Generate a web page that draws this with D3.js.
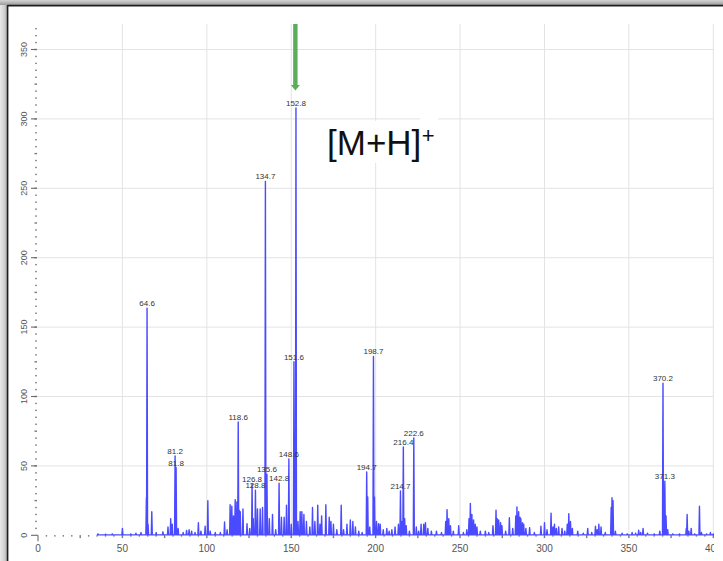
<!DOCTYPE html>
<html>
<head>
<meta charset="utf-8">
<script src="https://cdn.jsdelivr.net/npm/d3@7"></script>
<style>
  html, body { margin: 0; padding: 0; background: #fff; }
  svg { display: block; font-family: "Liberation Sans", Arial, sans-serif; }
</style>
</head>
<body>
<svg id="chart" width="723" height="561"></svg>
<script>
// Mass spectrum: centroid sticks (m/z, relative intensity)
const mz = [
  35.5, 40, 44, 50, 55, 58, 61, 64.2, 64.6, 65.2, 67.4, 70, 74, 77, 78.6, 79.5,
  81.2, 81.8, 83, 86, 88, 89.5, 91, 93, 95, 96.5, 99, 100.6, 102, 105, 108,
  110.5, 112, 113.8, 114.8, 115.8, 116.8, 117.8, 118.6, 119.2, 119.8, 121.4,
  123.8, 125.4, 126.8, 127.5, 128.8, 130, 131.6, 133, 134.7, 135.6, 137, 138.9,
  140.8, 142.8, 144.2, 145.8, 147.2, 148.6, 150, 151.6, 152.8, 154, 155.3,
  156.3, 157.5, 159, 161, 162.6, 164, 165.7, 167, 168, 170.5, 172.5, 173.5,
  175, 177, 179.6, 181, 183, 185, 186.5, 188, 190, 192, 194.7, 195.3, 196.5,
  198.7, 199.3, 200.5, 201.7, 202.7, 204.5, 206.6, 208, 209.6, 211.5, 213.5,
  214.7, 215.5, 216.4, 217.2, 218.1, 220, 222.6, 224.1, 225.5, 226.9, 228.5,
  229.5, 230.9, 233, 236, 239, 241.5, 242.3, 243.3, 244.3, 246, 249.2, 252,
  254, 255.3, 256.1, 257, 258, 259, 260, 262, 265, 267, 269.5, 271.3, 272,
  272.9, 274, 274.8, 277, 279.2, 281.2, 283, 283.7, 284.7, 285.5, 286, 287,
  287.7, 289, 291.2, 294, 297.9, 300, 301.5, 303.9, 305, 305.9, 307, 308.4,
  310.4, 312, 313.5, 314.4, 315.4, 316.5, 319.7, 323, 325.6, 328, 330.2, 331.2,
  332.2, 333.5, 336, 339.5, 340, 340.6, 342, 346, 349, 351.9, 354, 355.8, 357,
  358.4, 361, 365, 368.3, 370.2, 371.3, 372, 373, 376, 380, 384, 384.5, 385.5,
  386.9, 389, 391.8, 393, 396, 398.3, 400
];
const intensity = [
  1, 0.8, 1, 5, 1, 1.5, 2, 27, 163.6, 8, 17, 2, 2.5, 6, 12, 8,
  57.2, 48.8, 5, 2, 3.5, 4, 3, 2, 9, 3, 6.5, 25, 3, 2, 2,
  9.6, 4, 22, 21, 14, 25.7, 24, 81.7, 18, 17, 19,
  8.4, 5, 37, 12, 32.5, 19, 19, 20, 255, 44, 12, 15,
  4, 37.5, 13, 13, 21.6, 55, 8, 125, 307.9, 10, 17,
  17, 15, 10, 6, 20, 10, 21.6, 8, 14, 22, 13, 10,
  8, 4, 21.6, 4, 8, 11, 10, 6, 3, 2, 45.7, 27.6, 6,
  128.9, 27.6, 10, 8.4, 8, 4, 5, 3, 4, 6, 8,
  32, 10, 63.7, 12, 7, 3, 70.2, 6, 3, 8, 8,
  9, 5, 3, 3, 2, 10, 18.5, 12, 7, 3, 7, 2,
  4, 12, 23, 15, 11, 8, 6, 3, 3, 2, 7, 18, 12,
  11, 9, 7, 3, 12.7, 5, 14, 20.4, 17, 13, 12, 9,
  8, 5, 5.5, 2, 6.5, 9, 4, 16, 6, 8, 5, 6,
  5, 3, 8, 15.6, 10, 5, 3, 1.5, 5, 2, 6.5, 4,
  8, 6, 2, 20, 27, 25, 3, 1.5, 1, 2, 1.5, 3.6, 2,
  5, 1.5, 1, 3, 109.5, 39, 14, 4, 1, 1, 5, 15, 3,
  5, 1, 21, 2, 1, 2, 1
];
// Peaks that carry an m/z annotation
const labelledMz = [64.6, 81.2, 81.8, 118.6, 126.8, 128.8, 134.7, 135.6, 142.8,
  148.6, 151.6, 152.8, 194.7, 198.7, 214.7, 216.4, 222.6, 370.2, 371.3];
const xTicks = [0, 50, 100, 150, 200, 250, 300, 350, 400];
const yTicks = [0, 50, 100, 150, 200, 250, 300, 350];
const ionMz = 152.8;
const ionText = "[M+H]";
const ionCharge = "+";

const svg = d3.select("#chart");
const W = 723, H = 561;

// window frame with soft shadow
const defs = svg.append("defs");
const gTop = defs.append("linearGradient").attr("id", "shTop").attr("x1", 0).attr("y1", 0).attr("x2", 0).attr("y2", 1);
gTop.append("stop").attr("offset", "0%").attr("stop-color", "#d4d4d4");
gTop.append("stop").attr("offset", "100%").attr("stop-color", "#9c9c9c");
const gLeft = defs.append("linearGradient").attr("id", "shLeft").attr("x1", 0).attr("y1", 0).attr("x2", 1).attr("y2", 0);
gLeft.append("stop").attr("offset", "0%").attr("stop-color", "#e8e8e8");
gLeft.append("stop").attr("offset", "55%").attr("stop-color", "#d0d0d0");
gLeft.append("stop").attr("offset", "100%").attr("stop-color", "#9a9a9a");
defs.append("clipPath").attr("id", "plotClip")
  .append("rect").attr("x", 0).attr("y", 0).attr("width", 714).attr("height", H);

svg.append("rect").attr("x", 0).attr("y", 0).attr("width", W).attr("height", H).attr("fill", "#fff");
svg.append("rect").attr("x", 0).attr("y", 0).attr("width", 8).attr("height", H).attr("fill", "url(#shLeft)");
svg.append("rect").attr("x", 0).attr("y", 0).attr("width", W).attr("height", 5).attr("fill", "url(#shTop)");
svg.append("line").attr("x1", 7.5).attr("x2", W).attr("y1", 5.6).attr("y2", 5.6)
  .attr("stroke", "#1e1e1e").attr("stroke-width", 1.6);
svg.append("line").attr("x1", 7.6).attr("x2", 7.6).attr("y1", 5).attr("y2", H)
  .attr("stroke", "#1e1e1e").attr("stroke-width", 1.6);

const x = d3.scaleLinear().domain([0, 400]).range([38, 713.3]);
const y = d3.scaleLinear().domain([0, 350]).range([535.3, 49.5]);

const plot = svg.append("g").attr("clip-path", "url(#plotClip)");

// grid
plot.append("g").selectAll("line").data(xTicks.filter(d => d > 0)).join("line")
  .attr("x1", d => x(d)).attr("x2", d => x(d))
  .attr("y1", 24).attr("y2", y(0))
  .attr("stroke", "#e3e3e3").attr("stroke-width", 1);
plot.append("g").selectAll("line").data(yTicks.filter(d => d > 0)).join("line")
  .attr("x1", 36).attr("x2", x(400))
  .attr("y1", d => y(d)).attr("y2", d => y(d))
  .attr("stroke", "#e3e3e3").attr("stroke-width", 1);

// axes: dotted minor ticks, short major ticks
const axisCol = "#6a6a6a";
const yMinor = d3.range(5, 366, 5);
plot.append("g").selectAll("rect").data(yMinor).join("rect")
  .attr("x", d => d % 25 === 0 ? 34.5 : 35.2).attr("y", d => y(d) - 0.7)
  .attr("width", d => d % 25 === 0 ? 2.5 : 1.6).attr("height", 1.4)
  .attr("fill", "#7a7a7a");
plot.append("g").selectAll("line").data(yTicks).join("line")
  .attr("x1", 31).attr("x2", 36.5).attr("y1", d => y(d)).attr("y2", d => y(d))
  .attr("stroke", axisCol).attr("stroke-width", 1.1);
const xMinor = d3.range(5, 401, 5);
plot.append("g").selectAll("rect").data(xMinor).join("rect")
  .attr("x", d => x(d) - 0.7).attr("y", y(0) - 0.2)
  .attr("width", 1.4).attr("height", d => d % 25 === 0 ? 3 : 1.5)
  .attr("fill", "#7a7a7a");
plot.append("line").attr("x1", x(0)).attr("x2", x(0)).attr("y1", y(0)).attr("y2", y(0) + 6)
  .attr("stroke", axisCol).attr("stroke-width", 1.1);
plot.append("line").attr("x1", 36).attr("x2", x(0)).attr("y1", y(0)).attr("y2", y(0))
  .attr("stroke", axisCol).attr("stroke-width", 1.1);

plot.append("g").selectAll("text").data(xTicks).join("text")
  .attr("x", d => x(d)).attr("y", 552)
  .attr("text-anchor", "middle").attr("font-size", 10).attr("fill", "#555")
  .text(d => d);
plot.append("g").selectAll("text").data(yTicks).join("text")
  .attr("transform", d => `translate(27.3,${y(d)}) rotate(-90)`)
  .attr("text-anchor", "middle").attr("font-size", 9).attr("fill", "#555")
  .text(d => d);

// spectrum trace: each stick drawn as a narrow spike on the baseline
const order = d3.range(mz.length).sort((a, b) => mz[a] - mz[b]);
const pts = [[mz[order[0]] - 0.5, 0]];
order.forEach(i => {
  pts.push([mz[i] - 0.3, 0.3]);
  pts.push([mz[i], intensity[i]]);
  pts.push([mz[i] + 0.3, 0.3]);
});
pts.push([400, 0.3]);
const line = d3.line().x(d => x(d[0])).y(d => y(d[1]));
plot.append("path").attr("d", line(pts))
  .attr("fill", "none").attr("stroke", "#4a4aff").attr("stroke-width", 1.4)
  .attr("stroke-linejoin", "round");

// peak annotations
const labelRows = labelledMz.map(m => ({ m, h: intensity[mz.indexOf(m)] }));
plot.append("g").selectAll("text").data(labelRows).join("text")
  .attr("x", d => x(d.m)).attr("y", d => y(d.h) - 2)
  .attr("text-anchor", "middle").attr("font-size", 8).attr("fill", "#333")
  .text(d => d.m.toFixed(1));

// molecular ion callout
svg.append("rect").attr("x", 325).attr("y", 121).attr("width", 98).attr("height", 42).attr("fill", "#fff");
svg.append("rect").attr("x", 420).attr("y", 115.5).attr("width", 18).attr("height", 34).attr("fill", "#fff");
const ion = svg.append("text").attr("x", 327).attr("y", 155)
  .attr("font-size", 35).attr("fill", "#111").text(ionText);
const ionW = ion.node().getComputedTextLength();
svg.append("text").attr("x", 327 + ionW + 0.5).attr("y", 142.5)
  .attr("font-size", 22).attr("fill", "#111").text(ionCharge);

// arrow marking the molecular ion peak
const ax = x(ionMz) - 0.6;
svg.append("rect").attr("x", ax - 2.2).attr("y", 24).attr("width", 4.4).attr("height", 61)
  .attr("fill", "#5aad5a");
svg.append("path")
  .attr("d", `M${ax - 4.5},85 L${ax + 4.5},85 L${ax},90.5 Z`)
  .attr("fill", "#5aad5a");
</script>
</body>
</html>
